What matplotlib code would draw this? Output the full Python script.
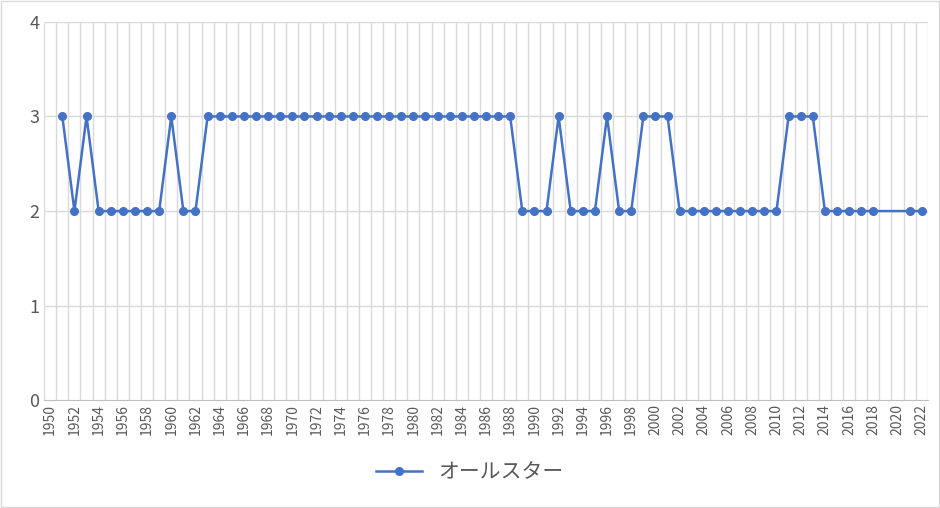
import matplotlib
matplotlib.use("Agg")
import matplotlib.pyplot as plt
import numpy as np

plt.rcParams['font.family'] = ['Noto Sans CJK JP', 'DejaVu Sans']

years = list(range(1950, 2023))
values = ([None, 3, 2, 3] + [2]*6 + [3] + [2]*2 + [3]*26 + [2]*3 + [3] + [2]*3 + [3] + [2]*2
          + [3]*3 + [2]*9 + [3]*3 + [2]*5 + [None, None] + [2, 2])
label = "オールスター"

xs = [y for y, v in zip(years, values) if v is not None]
ys = [v for v in values if v is not None]

fig = plt.figure(figsize=(9.4, 5.08), dpi=100)
ax = fig.add_axes([0.047, 0.212, 0.94, 0.745])
col = '#4472C4'
ax.plot(xs, ys, color=col, lw=1.8, marker='o', ms=5.5, label=label)
ax.set_xlim(1949.5, 2022.5)
ax.set_ylim(0, 4)
ax.set_yticks([0, 1, 2, 3, 4])
ax.set_xticks(range(1950, 2023, 2))
ax.set_xticklabels([str(y) for y in range(1950, 2023, 2)], rotation=90, fontsize=10, color='#595959')
ax.tick_params(axis='y', labelsize=13, colors='#595959', length=0)
ax.tick_params(axis='x', length=0, pad=3)
for y in np.arange(1949.5, 2023, 1):
    ax.axvline(y, color='#D9D9D9', lw=1, zorder=0)
for v in [1, 2, 3, 4]:
    ax.axhline(v, color='#D9D9D9', lw=1, zorder=0)
for s in ['top', 'right', 'left']:
    ax.spines[s].set_visible(False)
ax.spines['bottom'].set_color('#BFBFBF')
fig.legend(loc='center', bbox_to_anchor=(0.5, 0.07), frameon=False, fontsize=15,
           labelcolor='#595959', handlelength=2.2)
fig.patches.append(plt.Rectangle((0.001, 0.001), 0.998, 0.998, transform=fig.transFigure,
                                 fill=False, edgecolor='#D9D9D9', lw=1))
fig.savefig('out.png')
